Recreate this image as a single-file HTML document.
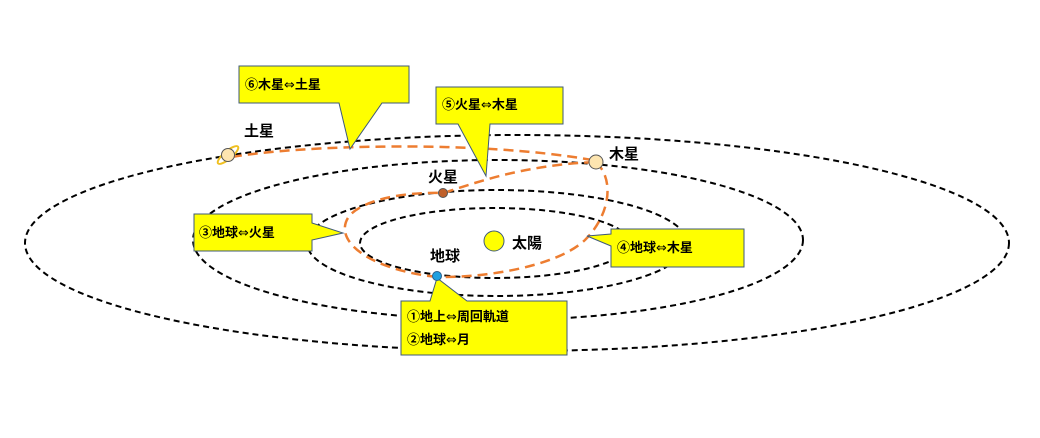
<!DOCTYPE html>
<html><head><meta charset="utf-8"><style>
body{margin:0;background:#fff}
text{font-family:"Liberation Sans","Noto Sans CJK JP",sans-serif;font-weight:bold;fill:#000}
.a{font-family:"DejaVu Sans",sans-serif;font-weight:normal}
</style></head><body>
<svg width="1040" height="433" viewBox="0 0 1040 433" xmlns="http://www.w3.org/2000/svg">
<g fill="none" stroke="#000" stroke-width="2" stroke-dasharray="6,4">
<ellipse cx="517" cy="243" rx="492" ry="108"/>
<ellipse cx="498" cy="240" rx="305" ry="80"/>
<ellipse cx="497" cy="243" rx="190" ry="53"/>
<ellipse cx="495" cy="243" rx="135" ry="35"/>
</g>
<g fill="none" stroke="#ed7d31" stroke-width="2.5" stroke-dasharray="10,6">
<path d="M232,157 C300,145 480,140 592,160"/>
<path d="M437,277 C370,270 330,240 350,215 C370,195 420,192 443,193 C470,185 520,165 596,162"/>
<path d="M596,162 C615,180 610,215 585,240 C555,268 480,278 437,277"/>
</g>
<g fill="#ffff00" stroke="#3f5a7a" stroke-width="1">
<polygon points="239,66 409,66 409,103 382,103 350,149 339,103 239,103"/>
<polygon points="436,87 563,87 563,124 490,124 486,176 458,124 436,124"/>
<polygon points="194,214 312,214 312,223 343,233 312,240 312,251 194,251"/>
<polygon points="611,229 744,229 744,267 611,267 611,246 587,236 611,234"/>
<polygon points="401,301 430,301 437,278 467,301 567,301 567,355 401,355"/>
</g>
<text x="245" y="89" font-size="13">⑥木星<tspan class="a">⇔</tspan>土星</text>
<text x="442" y="109" font-size="13">⑤火星<tspan class="a">⇔</tspan>木星</text>
<text x="199" y="237" font-size="13">③地球<tspan class="a">⇔</tspan>火星</text>
<text x="617" y="252" font-size="13">④地球<tspan class="a">⇔</tspan>木星</text>
<text x="407" y="321" font-size="13">①地上<tspan class="a">⇔</tspan>周回軌道</text>
<text x="407" y="344" font-size="13">②地球<tspan class="a">⇔</tspan>月</text>
<ellipse cx="228" cy="155" rx="13" ry="4" transform="rotate(-40 228 155)" fill="none" stroke="#f0c020" stroke-width="2"/>
<circle cx="228" cy="155" r="6.5" fill="#fde5b0" stroke="#555" stroke-width="1"/>
<circle cx="596" cy="162" r="7" fill="#fde5b0" stroke="#555" stroke-width="1"/>
<circle cx="443" cy="193" r="4.5" fill="#c0602a" stroke="#555" stroke-width="1"/>
<circle cx="437" cy="276" r="4.5" fill="#1fa0e0" stroke="#2a5d8a" stroke-width="1"/>
<circle cx="494" cy="241" r="10" fill="#ffff00" stroke="#3f5a7a" stroke-width="1"/>
<text x="244" y="136" font-size="15">土星</text>
<text x="609" y="159" font-size="15">木星</text>
<text x="428" y="182" font-size="15">火星</text>
<text x="430" y="261" font-size="15">地球</text>
<text x="512" y="248" font-size="15">太陽</text>
</svg>
</body></html>
